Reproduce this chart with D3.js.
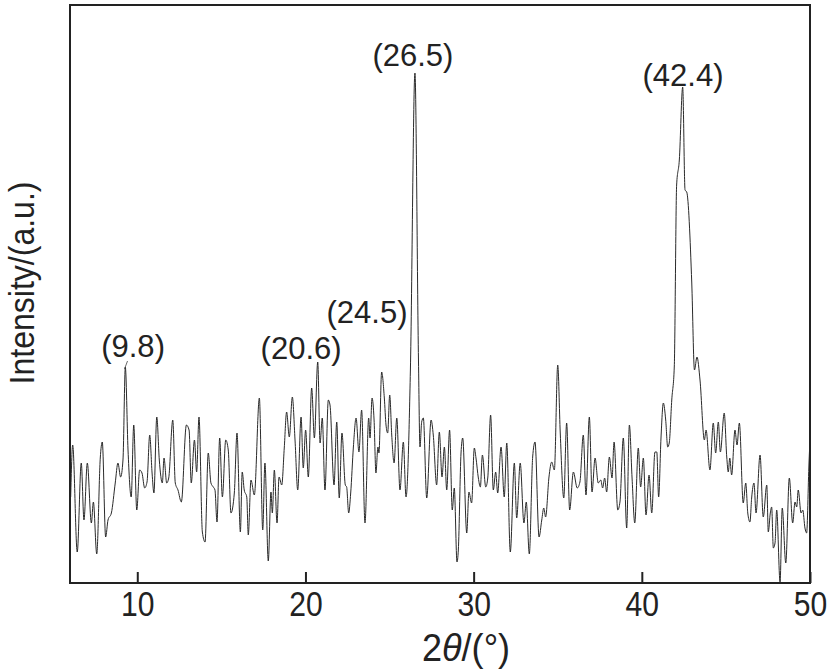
<!DOCTYPE html>
<html><head><meta charset="utf-8">
<script src="https://cdn.jsdelivr.net/npm/d3@7"></script>
<style>body{margin:0;background:#fff}</style>
</head><body>
<svg id="c" width="827" height="669"></svg>
<script>
// 2θ (degrees)
const twoTheta = [6.04,6.16,6.43,6.67,6.83,7.03,7.27,7.39,7.59,7.80,7.92,8.12,8.26,8.46,8.69,8.85,9.01,9.15,9.29,9.45,9.64,9.79,9.97,10.14,10.28,10.44,10.58,10.74,10.88,10.99,11.16,11.31,11.49,11.59,11.75,11.87,12.11,12.26,12.42,12.62,12.92,13.08,13.21,13.40,13.53,13.67,13.87,14.03,14.22,14.38,14.52,14.62,14.74,14.90,15.06,15.26,15.41,15.57,15.77,15.93,16.13,16.24,16.36,16.51,16.60,16.76,16.96,17.26,17.46,17.59,17.79,17.95,18.03,18.15,18.31,18.43,18.59,18.74,18.88,19.04,19.22,19.38,19.54,19.74,19.87,20.01,20.17,20.37,20.53,20.73,20.87,21.00,21.16,21.36,21.46,21.70,21.86,22.01,22.17,22.37,22.45,22.57,22.69,22.85,23.01,23.18,23.34,23.54,23.76,23.84,23.96,24.08,24.19,24.31,24.37,24.53,24.69,24.79,24.89,25.01,25.13,25.27,25.43,25.62,25.82,25.98,26.24,26.51,26.72,26.81,26.91,27.01,27.21,27.47,27.60,27.80,27.96,28.12,28.26,28.40,28.57,28.73,28.85,29.01,29.09,29.25,29.35,29.59,29.72,29.88,30.04,30.14,30.28,30.40,30.52,30.72,30.84,31.01,31.17,31.31,31.43,31.63,31.82,31.97,32.18,32.42,32.56,32.77,32.99,33.13,33.31,33.51,33.65,33.89,34.05,34.17,34.28,34.48,34.64,34.80,35.00,35.15,35.36,35.53,35.71,35.93,36.16,36.32,36.52,36.68,36.88,37.04,37.22,37.41,37.56,37.67,37.79,37.91,38.07,38.23,38.35,38.57,38.70,38.90,39.10,39.26,39.42,39.58,39.79,39.93,40.09,40.25,40.43,40.59,40.78,40.89,41.00,41.14,41.28,41.42,41.54,41.63,41.78,41.93,42.07,42.23,42.43,42.57,42.67,42.97,43.13,43.28,43.46,43.72,43.82,44.05,44.25,44.39,44.55,44.67,44.90,45.05,45.14,45.23,45.34,45.54,45.66,45.80,46.03,46.18,46.30,46.43,46.53,46.67,46.79,47.03,47.22,47.43,47.52,47.64,47.72,47.82,47.92,48.02,48.22,48.35,48.56,48.77,48.97,49.11,49.21,49.30,49.47,49.57,49.70,49.80,49.94,50.00];
// intensity (a.u.)
const intensity = [86,138,31,120,63,120,60,81,29,125,141,46,63,70,100,120,106,123,216,133,86,158,73,113,110,95,101,148,110,90,166,123,100,125,100,105,163,100,93,81,158,153,100,143,111,166,51,41,130,100,96,93,61,145,86,143,133,70,90,150,51,111,93,86,48,103,88,185,53,120,22,91,70,113,60,106,98,135,171,146,186,143,93,166,115,153,106,195,145,221,140,165,93,183,178,98,161,85,150,98,96,70,90,136,165,131,173,60,165,145,185,163,110,136,130,211,185,158,150,188,148,120,165,93,141,86,213,510,223,136,161,165,85,163,148,98,151,106,136,93,153,73,95,21,33,130,145,50,91,80,135,125,105,96,128,96,105,168,93,111,90,136,86,140,31,120,65,120,60,81,29,126,141,46,63,75,66,106,121,113,218,150,85,160,73,111,95,101,148,88,166,91,125,100,103,95,105,91,126,105,141,73,81,145,55,158,105,60,135,96,125,68,108,70,131,131,86,145,180,163,136,140,183,216,398,423,496,393,391,300,213,226,203,143,153,113,160,130,161,131,170,126,111,125,108,153,138,160,80,100,70,61,85,100,70,128,66,98,51,70,76,35,40,73,1,75,20,105,60,81,76,93,70,73,55,50,120,143];
const xTicks = [10,20,30,40,50];
const annoText = ["(9.8)","(20.6)","(24.5)","(26.5)","(42.4)"];
const annoX = [9.75,19.74,23.66,26.39,42.45];
const annoY = [226,224,260,517,497];

const svg = d3.select("#c");
const L=70,R=810,T=5,B=583;
const x = d3.scaleLinear().domain([6,50]).range([L,R]);
const y = d3.scaleLinear().domain([0,578]).range([B,T]);
const FONT = "'Liberation Sans', Arial, Helvetica, sans-serif";

const pts = twoTheta.map((d,i)=>[d,intensity[i]]);
svg.append("path").datum(pts)
  .attr("fill","none").attr("stroke","#2a2a2a").attr("stroke-width",1)
  .attr("d", d3.line().x(d=>x(d[0])).y(d=>y(d[1])).curve(d3.curveMonotoneX));

// frame
svg.append("rect").attr("x",L).attr("y",T).attr("width",R-L).attr("height",B-T)
  .attr("fill","none").attr("stroke","#222").attr("stroke-width",2);

const ax = svg.append("g").attr("transform",`translate(0,${B})`)
  .call(d3.axisBottom(x).tickValues(xTicks).tickSizeInner(-11).tickSizeOuter(0).tickPadding(8));
ax.select(".domain").remove();
ax.selectAll(".tick line").attr("stroke","#222").attr("stroke-width",2);
ax.selectAll(".tick text").attr("font-family",FONT).attr("font-size",35).attr("fill","#222")
  .attr("transform","scale(0.86,1)");

const xt = svg.append("text").attr("transform",`translate(466,661) scale(0.95,1)`)
  .attr("text-anchor","middle")
  .attr("font-family",FONT).attr("font-size",38).attr("fill","#222");
xt.append("tspan").text("2");
xt.append("tspan").attr("font-style","italic").text("θ");
xt.append("tspan").text("/(°)");

svg.append("text").attr("transform",`translate(34,${283}) rotate(-90) scale(0.89,1)`)
  .attr("text-anchor","middle").attr("font-family",FONT).attr("font-size",36).attr("fill","#222")
  .text("Intensity/(a.u.)");

svg.selectAll(".anno").data(annoText).enter().append("text")
  .attr("class","anno")
  .attr("transform",(d,i)=>`translate(${x(annoX[i])},${y(annoY[i])}) scale(0.97,1)`)
  .attr("text-anchor","middle").attr("font-family",FONT).attr("font-size",32).attr("fill","#222")
  .text(d=>d);

// small leader for (9.8)
svg.append("line").attr("x1",x(9.24)).attr("y1",y(216)+2).attr("x2",x(9.42)).attr("y2",y(226)+4)
  .attr("stroke","#444").attr("stroke-width",0.8);
</script>
</body></html>
